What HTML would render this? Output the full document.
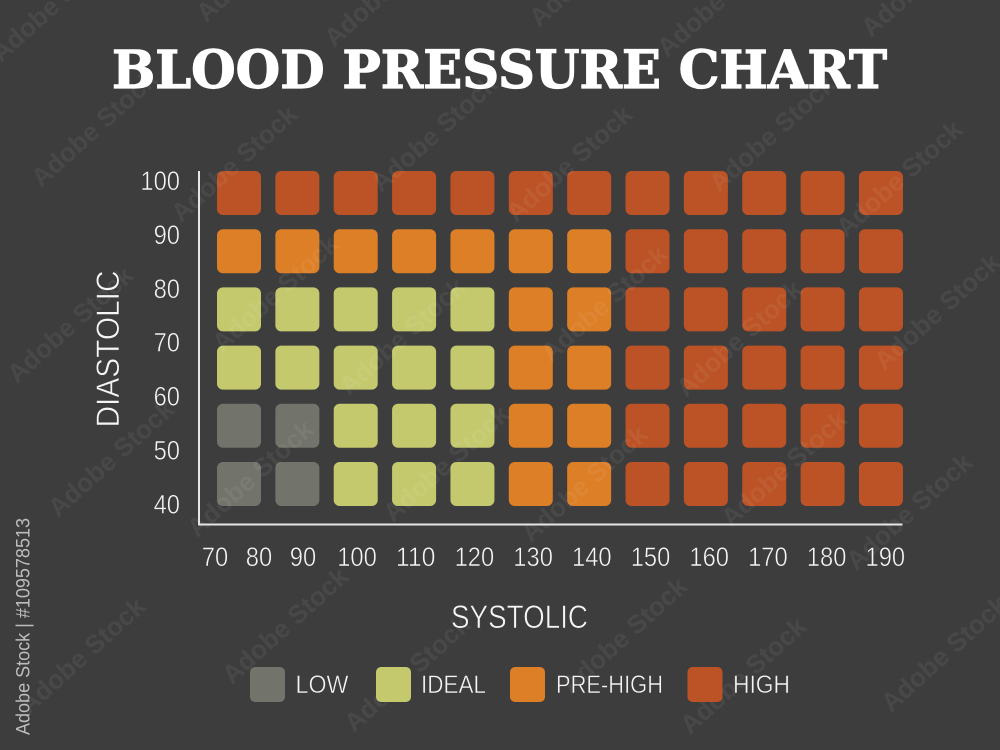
<!DOCTYPE html>
<html lang="en">
<head>
<meta charset="utf-8">
<title>Blood Pressure Chart</title>
<style>
html,body{margin:0;padding:0;background:#3d3d3d;width:1000px;height:750px;overflow:hidden;}
svg{display:block;overflow:hidden;}
text{font-family:"Liberation Sans",sans-serif;}
.wm{font-size:26px;font-weight:bold;fill:#ffffff;fill-opacity:0.06;text-anchor:middle;}
</style>
</head>
<body>
<svg id="chart" xmlns="http://www.w3.org/2000/svg" width="1000" height="750" viewBox="0 0 1000 750">
  <rect width="1000" height="750" fill="#3d3d3d"/>
  <text x="112" y="88" textLength="775" lengthAdjust="spacingAndGlyphs" fill="#ffffff" stroke="#ffffff" stroke-width="1.2" font-size="52" font-weight="bold" style="font-family:'DejaVu Serif','Liberation Serif',serif">BLOOD PRESSURE CHART</text>
  <g id="cells"></g>
  <g>
    <text class="wm" transform="translate(60,10) rotate(-42)">Adobe Stock</text>
    <text class="wm" transform="translate(265,-30) rotate(-42)">Adobe Stock</text>
    <text class="wm" transform="translate(393,-5) rotate(-42)">Adobe Stock</text>
    <text class="wm" transform="translate(598,-25) rotate(-42)">Adobe Stock</text>
    <text class="wm" transform="translate(726,5) rotate(-42)">Adobe Stock</text>
    <text class="wm" transform="translate(930,-15) rotate(-42)">Adobe Stock</text>
    <text class="wm" transform="translate(100,135) rotate(-42)">Adobe Stock</text>
    <text class="wm" transform="translate(240,170) rotate(-42)">Adobe Stock</text>
    <text class="wm" transform="translate(440,140) rotate(-42)">Adobe Stock</text>
    <text class="wm" transform="translate(575,170) rotate(-42)">Adobe Stock</text>
    <text class="wm" transform="translate(778,140) rotate(-42)">Adobe Stock</text>
    <text class="wm" transform="translate(905,185) rotate(-42)">Adobe Stock</text>
    <text class="wm" transform="translate(76,331) rotate(-42)">Adobe Stock</text>
    <text class="wm" transform="translate(281,300) rotate(-42)">Adobe Stock</text>
    <text class="wm" transform="translate(408,343) rotate(-42)">Adobe Stock</text>
    <text class="wm" transform="translate(610,310) rotate(-42)">Adobe Stock</text>
    <text class="wm" transform="translate(745,345) rotate(-42)">Adobe Stock</text>
    <text class="wm" transform="translate(943,318) rotate(-42)">Adobe Stock</text>
    <text class="wm" transform="translate(117,465) rotate(-42)">Adobe Stock</text>
    <text class="wm" transform="translate(256,485) rotate(-42)">Adobe Stock</text>
    <text class="wm" transform="translate(452,470) rotate(-42)">Adobe Stock</text>
    <text class="wm" transform="translate(590,490) rotate(-42)">Adobe Stock</text>
    <text class="wm" transform="translate(790,475) rotate(-42)">Adobe Stock</text>
    <text class="wm" transform="translate(915,518) rotate(-42)">Adobe Stock</text>
    <text class="wm" transform="translate(88,662) rotate(-42)">Adobe Stock</text>
    <text class="wm" transform="translate(291,632) rotate(-42)">Adobe Stock</text>
    <text class="wm" transform="translate(413,680) rotate(-42)">Adobe Stock</text>
    <text class="wm" transform="translate(630,642) rotate(-42)">Adobe Stock</text>
    <text class="wm" transform="translate(749,682) rotate(-42)">Adobe Stock</text>
    <text class="wm" transform="translate(950,660) rotate(-42)">Adobe Stock</text>
  </g>
  <line x1="199" y1="171" x2="199" y2="525" stroke="#e6e6e6" stroke-width="2"/>
  <line x1="198" y1="524.5" x2="902.5" y2="524.5" stroke="#e6e6e6" stroke-width="2"/>
  <g id="y-ticks"></g>
  <g id="x-ticks"></g>
  <text transform="translate(119,427.5) rotate(-90)" textLength="157" lengthAdjust="spacingAndGlyphs" fill="#f5f5f5" font-size="32" stroke="#3d3d3d" stroke-width="0.6">DIASTOLIC</text>
  <text x="451" y="628" textLength="137" lengthAdjust="spacingAndGlyphs" fill="#f5f5f5" font-size="32" stroke="#3d3d3d" stroke-width="0.6">SYSTOLIC</text>
  <g>
    <g>
      <rect x="250" y="667" width="35" height="35" rx="5" fill="#72736b"/>
      <text x="295.5" y="693" textLength="53" lengthAdjust="spacingAndGlyphs" fill="#f5f5f5" font-size="25" stroke="#3d3d3d" stroke-width="0.5">LOW</text>
    </g>
    <g>
      <rect x="376" y="667" width="35" height="35" rx="5" fill="#c4c96e"/>
      <text x="421" y="693" textLength="65" lengthAdjust="spacingAndGlyphs" fill="#f5f5f5" font-size="25" stroke="#3d3d3d" stroke-width="0.5">IDEAL</text>
    </g>
    <g>
      <rect x="510" y="667" width="35" height="35" rx="5" fill="#dc7f27"/>
      <text x="556" y="693" textLength="107" lengthAdjust="spacingAndGlyphs" fill="#f5f5f5" font-size="25" stroke="#3d3d3d" stroke-width="0.5">PRE-HIGH</text>
    </g>
    <g>
      <rect x="687.5" y="667" width="35" height="35" rx="5" fill="#bb5326"/>
      <text x="733" y="693" textLength="57" lengthAdjust="spacingAndGlyphs" fill="#f5f5f5" font-size="25" stroke="#3d3d3d" stroke-width="0.5">HIGH</text>
    </g>
  </g>
  <text transform="translate(29.5,735) rotate(-90)" textLength="217" lengthAdjust="spacingAndGlyphs" fill="#bdbdbd" font-size="19">Adobe Stock | #109578513</text>
</svg>
<script>
// Chart data
const systolicColumns = [80, 90, 100, 110, 120, 130, 140, 150, 160, 170, 180, 190];
const diastolicRows = [100, 90, 80, 70, 60, 50];
const levelNames = ['low', 'ideal', 'pre-high', 'high'];
const levelRow100 = [3, 3, 3, 3, 3, 3, 3, 3, 3, 3, 3, 3];
const levelRow90 = [2, 2, 2, 2, 2, 2, 2, 3, 3, 3, 3, 3];
const levelRow80 = [1, 1, 1, 1, 1, 2, 2, 3, 3, 3, 3, 3];
const levelRow70 = [1, 1, 1, 1, 1, 2, 2, 3, 3, 3, 3, 3];
const levelRow60 = [0, 0, 1, 1, 1, 2, 2, 3, 3, 3, 3, 3];
const levelRow50 = [0, 0, 1, 1, 1, 2, 2, 3, 3, 3, 3, 3];
const xTickLabels = [70, 80, 90, 100, 110, 120, 130, 140, 150, 160, 170, 180, 190];
const yTickLabels = [100, 90, 80, 70, 60, 50, 40];

const levelRows = [levelRow100, levelRow90, levelRow80, levelRow70, levelRow60, levelRow50];
const levelColors = {'low': '#72736b', 'ideal': '#c4c96e', 'pre-high': '#dc7f27', 'high': '#bb5326'};
const NS = 'http://www.w3.org/2000/svg';

// Axis functions
function xCell(systolic) { return 217 + (systolic - 80) * 5.836; }
function yCell(diastolic) { return 171 + (100 - diastolic) * 5.82; }
function xTick(v) { return v <= 90 ? 215 + (v - 70) * 4.4 : 357 + (v - 100) * 5.87; }
function yTick(v) { return 190 + (100 - v) * 5.39; }

const cells = document.getElementById('cells');
diastolicRows.forEach(function (d, r) {
  systolicColumns.forEach(function (s, c) {
    const level = levelNames[levelRows[r][c]];
    const el = document.createElementNS(NS, 'rect');
    
    
    el.setAttribute('x', xCell(s));
    el.setAttribute('y', yCell(d));
    el.setAttribute('width', 44);
    el.setAttribute('height', 44);
    el.setAttribute('rx', 6);
    el.setAttribute('fill', levelColors[level]);
    cells.appendChild(el);
  });
});

function addTick(parent, name, label, x, y, anchor) {
  const el = document.createElementNS(NS, 'text');
  
  
  el.setAttribute('x', x);
  el.setAttribute('y', y);
  el.setAttribute('text-anchor', anchor);
  el.setAttribute('fill', '#f5f5f5');
  el.setAttribute('font-size', '27');
  el.setAttribute('stroke', '#3d3d3d');
  el.setAttribute('stroke-width', '0.55');
  el.setAttribute('textLength', String(label).length * 13.2);
  el.setAttribute('lengthAdjust', 'spacingAndGlyphs');
  el.textContent = label;
  parent.appendChild(el);
}
const yTicksGroup = document.getElementById('y-ticks');
yTickLabels.forEach(function (v) {
  addTick(yTicksGroup, 'y-tick-' + v, v, 180, yTick(v), 'end');
});
const xTicksGroup = document.getElementById('x-ticks');
xTickLabels.forEach(function (v) {
  addTick(xTicksGroup, 'x-tick-' + v, v, xTick(v), 566, 'middle');
});
</script>
</body>
</html>
